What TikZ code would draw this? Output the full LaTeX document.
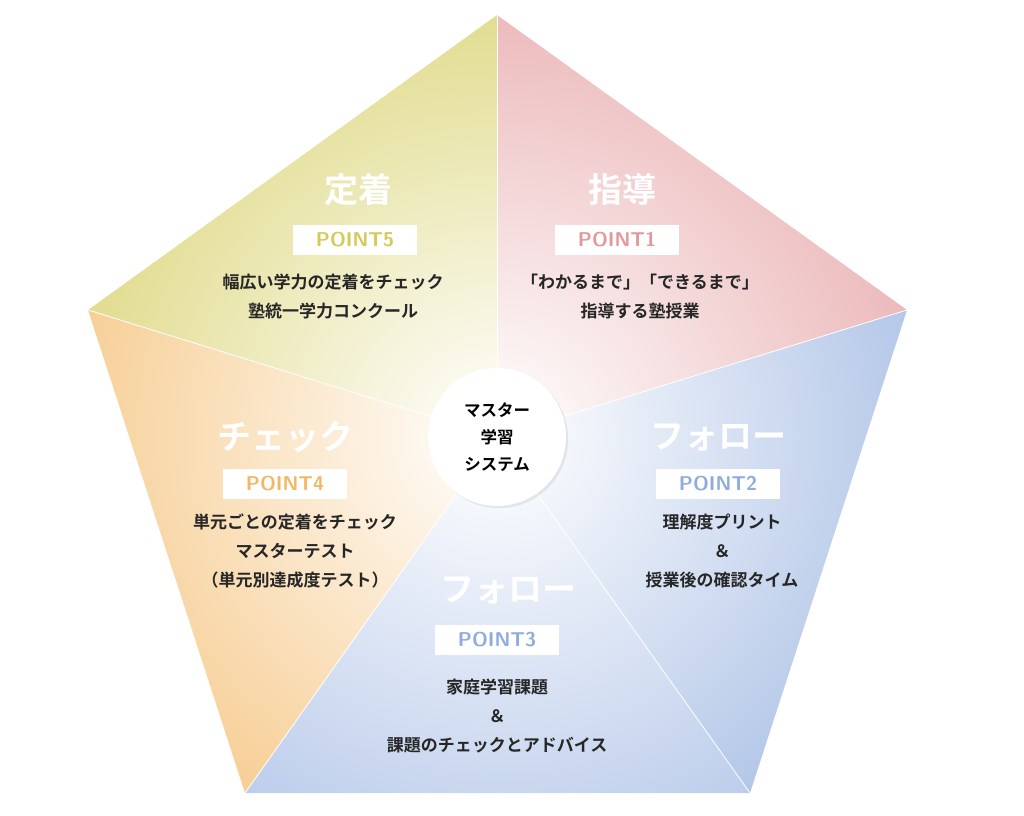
\documentclass[tikz,border=0pt]{standalone}
\usepackage{fontspec}
\newfontfamily\jp{Noto Sans CJK JP Bold}
\newfontfamily\jpb{Noto Sans CJK JP Bold}
\usetikzlibrary{shadows}
\definecolor{cpink}{HTML}{E3989A}
\definecolor{cyel}{HTML}{D3CB58}
\definecolor{cora}{HTML}{F3B864}
\definecolor{cblue}{HTML}{8FACDD}
\definecolor{cblue3}{HTML}{9DB6E2}
\tikzset{
 ttl/.style={text=white,font=\jpb\fontsize{34}{34}\selectfont},
 pbox/.style={fill=white,font=\sffamily\bfseries\fontsize{20}{20}\selectfont,minimum width=124pt,minimum height=30pt,inner sep=0pt},
 body/.style={font=\jp\fontsize{17}{29}\selectfont,align=center,text=black!85}
}
\begin{document}
\begin{tikzpicture}[x=1pt,y=-1pt]
\useasboundingbox (0,0) rectangle (1024,815);
\coordinate (C) at (497,437);
\coordinate (T) at (497,15);
\coordinate (R) at (907,310);
\coordinate (BR) at (750,793);
\coordinate (BL) at (245,793);
\coordinate (L) at (88,310);
\foreach \a/\b/\c in {T/R/cpink,R/BR/cblue,BR/BL/cblue3,BL/L/cora,L/T/cyel}{
 \begin{scope}
 \clip (C) -- (\a) -- (\b) -- cycle;
 \shade[inner color=white,outer color=\c] (C) circle (640);
 \end{scope}
}
\foreach \p in {T,R,BR,BL,L}{\draw[white,line width=0.8] (C) -- (\p);}
\node[circle,fill=white,minimum size=138pt,drop shadow={opacity=0.15}] (cc) at (C) {};
\node[font=\jpb\fontsize{16.5}{27}\selectfont,align=center] (ct) at (C) {マスター\\学習\\システム};
\node[ttl] (t5) at (358,190) {定着};
\node[pbox,text=cyel] (p5) at (355,240) {POINT5};
\node[body] (b5) at (333,297) {幅広い学力の定着をチェック\\塾統一学力コンクール};
\node[ttl] (t1) at (622,190) {指導};
\node[pbox,text=cpink] (p1) at (617,240) {POINT1};
\node[body] (b1) at (640,297) {「わかるまで」「できるまで」\\指導する塾授業};
\node[ttl] (t4) at (285,437) {チェック};
\node[pbox,text=cora] (p4) at (285,484) {POINT4};
\node[body] (b4) at (295,551) {単元ごとの定着をチェック\\マスターテスト\\（単元別達成度テスト）};
\node[ttl] (t2) at (718,437) {フォロー};
\node[pbox,text=cblue] (p2) at (718,484) {POINT2};
\node[body] (b2) at (722,551) {理解度プリント\\＆\\授業後の確認タイム};
\node[ttl] (t3) at (508,590) {フォロー};
\node[pbox,text=cblue] (p3) at (497,640) {POINT3};
\node[body] (b3) at (497,716) {家庭学習課題\\＆\\課題のチェックとアドバイス};
\end{tikzpicture}
\end{document}
